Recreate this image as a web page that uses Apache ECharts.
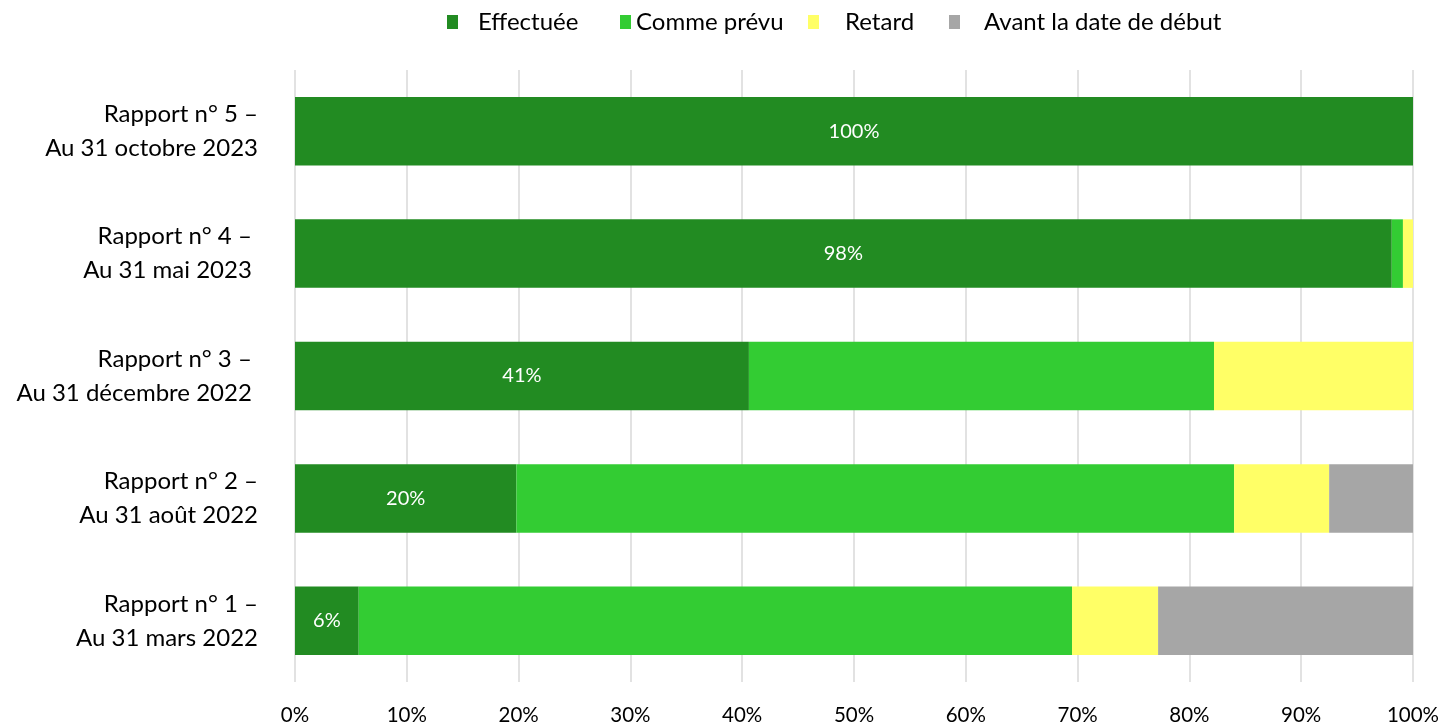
<!DOCTYPE html>
<html>
<head>
<meta charset="utf-8">
<script src="https://cdn.jsdelivr.net/npm/echarts@6/dist/echarts.min.js"></script>
<style>
html,body{margin:0;padding:0;background:#fff;}
#c{width:1446px;height:726px;}
</style>
</head>
<body>
<div id="c"></div>
<script>
var categories = [
  "Rapport n° 1 –\nAu 31 mars 2022",
  "Rapport n° 2 –\nAu 31 août 2022",
  "Rapport n° 3 – \nAu 31 décembre 2022 ",
  "Rapport n° 4 – \nAu 31 mai 2023 ",
  "Rapport n° 5 –\nAu 31 octobre 2023"
];
var effectuee = [5.7, 19.8, 40.6, 98.1, 100];
var commePrevu = [63.8, 64.2, 41.6, 1.0, 0];
var retard = [7.7, 8.5, 17.8, 0.9, 0];
var avantDebut = [22.8, 7.5, 0, 0, 0];
var seriesNames = ["Effectuée", "Comme prévu", "Retard", "Avant la date de début"];
var colors = ["#228B22", "#33CC33", "#FFFF66", "#A6A6A6"];
var xTicks = [0, 10, 20, 30, 40, 50, 60, 70, 80, 90, 100];

var FONT = "Lato";
var chart = echarts.init(document.getElementById('c'));
var datas = [effectuee, commePrevu, retard, avantDebut];
var series = datas.map(function (d, i) {
  return {
    name: seriesNames[i],
    type: 'bar',
    stack: 'total',
    barWidth: '56%',
    data: d,
    itemStyle: { color: colors[i] },
    label: i === 0 ? {
      show: true,
      position: 'inside',
      color: '#fff',
      fontFamily: FONT,
      fontSize: 20,
      formatter: function (p) { return Math.round(p.value) + '%'; }
    } : { show: false },
    emphasis: { disabled: true }
  };
});

// legend layout: icon left positions and icon-to-text gaps
var legendLeft = [447, 620, 808, 949];
var legendGap = [15, 0, 21, 19];
var legends = seriesNames.map(function (n, i) {
  return {
    top: 10,
    left: legendLeft[i],
    padding: 0,
    itemWidth: 11,
    itemHeight: 14,
    icon: 'rect',
    selectedMode: false,
    textStyle: { fontFamily: FONT, fontSize: 24, color: '#000', padding: [0, 0, 0, legendGap[i]] },
    data: [n]
  };
});

chart.setOption({
  animation: false,
  textStyle: { fontFamily: FONT },
  legend: legends,
  grid: { left: 295, right: 33, top: 70, bottom: 44, containLabel: false },
  xAxis: {
    type: 'value',
    min: 0,
    max: 100,
    interval: 10,
    axisLine: { show: false },
    axisTick: { show: false },
    splitLine: { show: true, lineStyle: { color: '#D9D9D9', width: 1.5 } },
    axisLabel: {
      fontFamily: FONT, fontSize: 20.5, color: '#000', margin: 23,
      formatter: function (v) { return xTicks.indexOf(v) >= 0 ? v + '%' : ''; }
    }
  },
  yAxis: {
    type: 'category',
    data: categories,
    axisLine: { show: false },
    axisTick: { show: false },
    axisLabel: {
      fontFamily: FONT, fontSize: 24, color: '#000', margin: 37,
      align: 'right', lineHeight: 34
    }
  },
  series: series
});
</script>
</body>
</html>
